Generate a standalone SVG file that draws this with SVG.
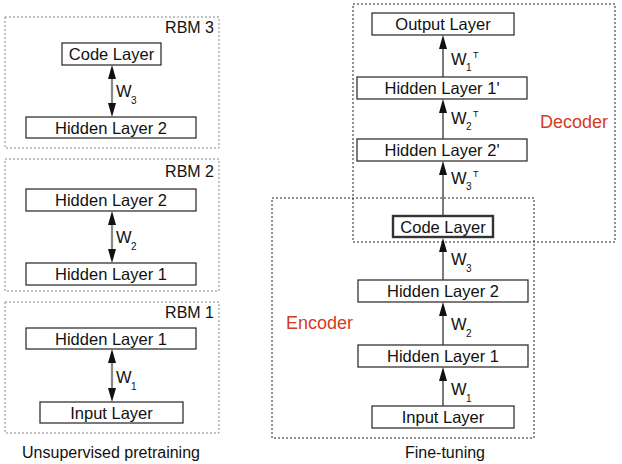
<svg xmlns="http://www.w3.org/2000/svg" width="622" height="464" viewBox="0 0 622 464">
<style>
text{font-family:"Liberation Sans",Arial,sans-serif;fill:#111}
.box{fill:#fff;stroke:#333;stroke-width:1.3}
.thick{fill:#fff;stroke:#333;stroke-width:2.4}
.lbl{font-size:16.5px;text-anchor:middle}
.grp{fill:none;stroke:#888;stroke-width:1;stroke-dasharray:2 2}
.grpk{fill:none;stroke:#222;stroke-width:1;stroke-dasharray:2 2}
.rbm{font-size:16px;text-anchor:end}
.w{font-size:16.5px}
.sub{font-size:10px}
.sup{font-size:9px}
.cap{font-size:16px;text-anchor:middle}
.red{font-size:18px;fill:#d23c1e}
.dbl{stroke:#888;stroke-width:2.2;fill:none}
.one{stroke:#333;stroke-width:1.3;fill:none}
.head{fill:#111}
</style>

<!-- group frames -->
<rect class="grp" x="5" y="17" width="214" height="131"/>
<rect class="grp" x="5" y="159" width="214" height="132"/>
<rect class="grp" x="5" y="302" width="214" height="131"/>
<rect class="grpk" x="353" y="4" width="262" height="238"/>
<rect class="grpk" x="272" y="198" width="262" height="240"/>
<text class="rbm" x="214" y="33">RBM 3</text>
<text class="rbm" x="214" y="177">RBM 2</text>
<text class="rbm" x="214" y="318">RBM 1</text>
<text class="red" x="540" y="128">Decoder</text>
<text class="red" x="286" y="329">Encoder</text>
<text class="cap" x="111" y="458">Unsupervised pretraining</text>
<text class="cap" x="445" y="458">Fine-tuning</text>

<!-- connectors -->
<g id="connectors">
<line class="dbl" x1="112" y1="78" x2="112" y2="104"/>
<path class="head" d="M112,65 L116,79 L108,79 Z M112,117 L116,103 L108,103 Z"/>
<line class="dbl" x1="112" y1="224" x2="112" y2="250"/>
<path class="head" d="M112,211 L116,225 L108,225 Z M112,263 L116,249 L108,249 Z"/>
<line class="dbl" x1="112" y1="362" x2="112" y2="389"/>
<path class="head" d="M112,349 L116,363 L108,363 Z M112,402 L116,388 L108,388 Z"/>

<line class="one" x1="443" y1="406" x2="443" y2="378"/>
<path class="head" d="M443,367 L447,381 L439,381 Z"/>
<line class="one" x1="443" y1="345" x2="443" y2="313"/>
<path class="head" d="M443,302 L447,316 L439,316 Z"/>
<line class="one" x1="443" y1="280" x2="443" y2="250"/>
<path class="head" d="M443,238 L447,252 L439,252 Z"/>
<line class="one" x1="443" y1="215" x2="443" y2="172"/>
<path class="head" d="M443,161 L447,175 L439,175 Z"/>
<line class="one" x1="443" y1="139" x2="443" y2="110"/>
<path class="head" d="M443,99 L447,113 L439,113 Z"/>
<line class="one" x1="443" y1="77" x2="443" y2="46"/>
<path class="head" d="M443,35 L447,49 L439,49 Z"/>

<text class="w" x="116" y="97">W</text><text class="sub" x="131" y="104">3</text>
<text class="w" x="116" y="243">W</text><text class="sub" x="131" y="250">2</text>
<text class="w" x="116" y="383">W</text><text class="sub" x="131" y="390">1</text>

<text class="w" x="451" y="265">W</text><text class="sub" x="466" y="272">3</text>
<text class="w" x="451" y="330">W</text><text class="sub" x="466" y="337">2</text>
<text class="w" x="451" y="395">W</text><text class="sub" x="466" y="402">1</text>

<text class="w" x="451" y="65">W</text><text class="sub" x="466" y="71">1</text><text class="sup" x="473" y="58">T</text>
<text class="w" x="451" y="124">W</text><text class="sub" x="466" y="130">2</text><text class="sup" x="473" y="117">T</text>
<text class="w" x="451" y="184">W</text><text class="sub" x="466" y="190">3</text><text class="sup" x="473" y="177">T</text>
</g>

<!-- left nodes -->
<g id="rbm3-code"><rect class="box" x="62" y="43" width="99" height="22"/><text class="lbl" x="111.5" y="60">Code Layer</text></g>
<g id="rbm3-h2"><rect class="box" x="26" y="117" width="170" height="21"/><text class="lbl" x="111" y="133.5">Hidden Layer 2</text></g>
<g id="rbm2-h2"><rect class="box" x="26" y="189" width="170" height="22"/><text class="lbl" x="111" y="206">Hidden Layer 2</text></g>
<g id="rbm2-h1"><rect class="box" x="26" y="263" width="170" height="22"/><text class="lbl" x="111" y="280">Hidden Layer 1</text></g>
<g id="rbm1-h1"><rect class="box" x="26" y="328" width="170" height="21"/><text class="lbl" x="111" y="344.5">Hidden Layer 1</text></g>
<g id="rbm1-in"><rect class="box" x="40" y="402" width="143" height="21"/><text class="lbl" x="111.5" y="418.5">Input Layer</text></g>

<!-- right nodes -->
<g id="ft-out"><rect class="box" x="372" y="13" width="142" height="22"/><text class="lbl" x="443" y="30">Output Layer</text></g>
<g id="ft-h1p"><rect class="box" x="357" y="77" width="170" height="22"/><text class="lbl" x="442" y="94">Hidden Layer 1'</text></g>
<g id="ft-h2p"><rect class="box" x="357" y="139" width="170" height="22"/><text class="lbl" x="442" y="156">Hidden Layer 2'</text></g>
<g id="ft-code"><rect class="thick" x="393" y="216" width="100" height="21"/><text class="lbl" x="443" y="232.5">Code Layer</text></g>
<g id="ft-h2"><rect class="box" x="358" y="280" width="170" height="22"/><text class="lbl" x="443" y="297">Hidden Layer 2</text></g>
<g id="ft-h1"><rect class="box" x="358" y="345" width="170" height="22"/><text class="lbl" x="443" y="362">Hidden Layer 1</text></g>
<g id="ft-in"><rect class="box" x="372" y="406" width="142" height="22"/><text class="lbl" x="443" y="423">Input Layer</text></g>
</svg>
